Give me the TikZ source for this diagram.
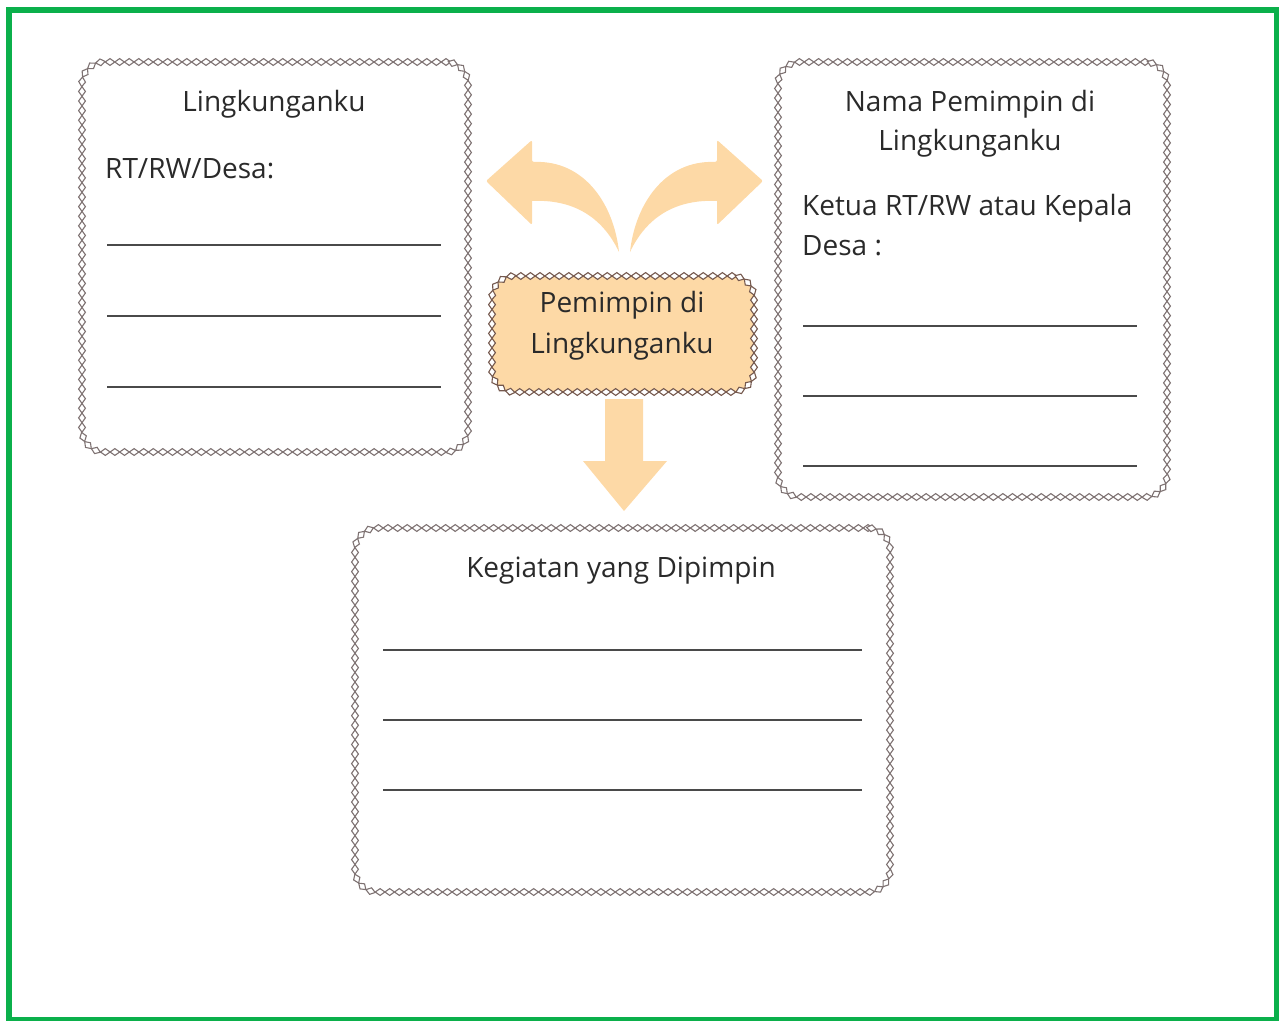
\documentclass[tikz,border=0pt]{standalone}
\usepackage{fontspec}
\setmainfont{Open Sans}
\usetikzlibrary{decorations.markings}
\definecolor{gborder}{HTML}{0BB04B}
\definecolor{peach}{HTML}{FDD9A6}
\definecolor{chain}{HTML}{7E7272}
\definecolor{chaindark}{HTML}{75594E}
\definecolor{txt}{HTML}{2A2A2A}
\tikzset{
  chainbox/.style={rounded corners=22pt, postaction={decorate},
    decoration={markings, mark=between positions 0 and 1 step 9.6pt with {
      \draw[#1, line width=1.1pt, fill=white, sharp corners] (-4.8,0)--(0,3.4)--(4.8,0)--(0,-3.4)--cycle;}}},
  chainbox/.default=chain,
  lbl/.style={font=\fontsize{28}{33}\selectfont, text=txt, inner sep=0pt, yshift=-3pt},
  wline/.style={draw=txt!85, line width=1.2pt},
  bigarrow/.style={fill=peach, draw=none},
}
\begin{document}
\begin{tikzpicture}[x=1pt,y=-1pt]
\useasboundingbox (0,0) rectangle (1279,1020);
\draw[gborder, line width=6pt] (9,10) rectangle (1277,1020);

% boxes
\node[chainbox, minimum width=386pt, minimum height=390pt] (left) at (275,257) {};
\node[chainbox, minimum width=389pt, minimum height=435pt] (right) at (972.5,279.5) {};
\node[chainbox=chaindark, fill=peach, minimum width=262pt, minimum height=116pt] (center) at (623,334) {};
\node[chainbox, minimum width=535pt, minimum height=364pt] (bottom) at (622.5,710) {};

% left box
\node[lbl] (t1) at (274,101) {Lingkunganku};
\node[lbl, anchor=west] (t2) at (105,166) {RT/RW/Desa:};
\coordinate (l1a) at (107,245); \coordinate (l1b) at (441,245);
\coordinate (l2a) at (107,316); \coordinate (l2b) at (441,316);
\coordinate (l3a) at (107,387); \coordinate (l3b) at (441,387);
\draw[wline] (l1a) -- (l1b);
\draw[wline] (l2a) -- (l2b);
\draw[wline] (l3a) -- (l3b);

% right box
\node[lbl] (t3) at (970,101) {Nama Pemimpin di};
\node[lbl] (t4) at (970,140) {Lingkunganku};
\node[lbl, anchor=west] (t5) at (802,205) {Ketua RT/RW atau Kepala};
\node[lbl, anchor=west] (t6) at (802,243) {Desa :};
\coordinate (r1a) at (803,326); \coordinate (r1b) at (1137,326);
\coordinate (r2a) at (803,396); \coordinate (r2b) at (1137,396);
\coordinate (r3a) at (803,466); \coordinate (r3b) at (1137,466);
\draw[wline] (r1a) -- (r1b);
\draw[wline] (r2a) -- (r2b);
\draw[wline] (r3a) -- (r3b);

% center
\node[lbl] (c1) at (622,302) {Pemimpin di};
\node[lbl] (c2) at (622,343) {Lingkunganku};

% bottom box
\node[lbl] (t7) at (621,568) {Kegiatan yang Dipimpin};
\coordinate (b1a) at (383,650); \coordinate (b1b) at (862,650);
\coordinate (b2a) at (383,720); \coordinate (b2b) at (862,720);
\coordinate (b3a) at (383,790); \coordinate (b3b) at (862,790);
\draw[wline] (b1a) -- (b1b);
\draw[wline] (b2a) -- (b2b);
\draw[wline] (b3a) -- (b3b);

% arrows
\fill[bigarrow] (605,399) -- (643,399) -- (643,461) -- (667,461) -- (624,511) -- (583,461) -- (605,461) -- cycle;
\fill[bigarrow, rounded corners=2pt] (486,181) -- (532,140) -- (532,162) [sharp corners] .. controls (585,160) and (614,205) .. (619,252) .. controls (602,216) and (572,199) .. (532,201) [rounded corners=2pt] -- (532,225) -- cycle;
\begin{scope}[xshift=1249pt, xscale=-1]
\fill[bigarrow, rounded corners=2pt] (486,181) -- (532,140) -- (532,162) [sharp corners] .. controls (585,160) and (614,205) .. (619,252) .. controls (602,216) and (572,199) .. (532,201) [rounded corners=2pt] -- (532,225) -- cycle;
\end{scope}
\end{tikzpicture}
\end{document}
